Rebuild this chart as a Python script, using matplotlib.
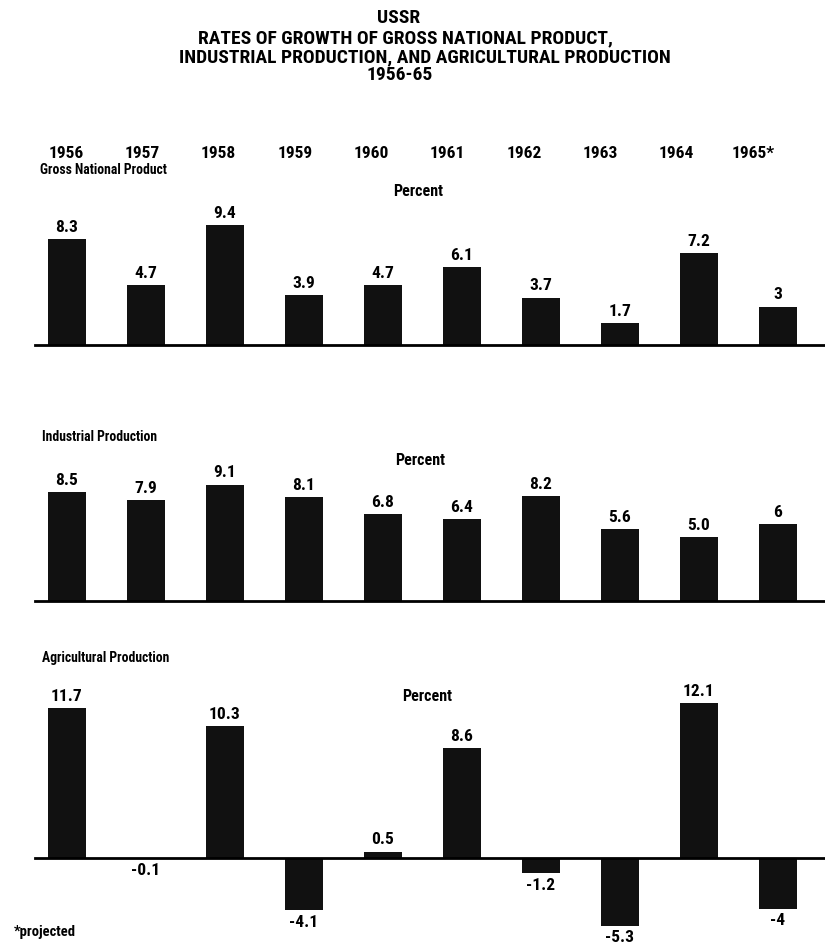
import matplotlib
matplotlib.use("Agg")
import matplotlib.pyplot as plt

years = ["1956", "1957", "1958", "1959", "1960", "1961", "1962", "1963", "1964", "1965*"]
gnp = [8.3, 4.7, 9.4, 3.9, 4.7, 6.1, 3.7, 1.7, 7.2, 3]
gnp_lbl = ["8.3", "4.7", "9.4", "3.9", "4.7", "6.1", "3.7", "1.7", "7.2", "3"]
ind = [8.5, 7.9, 9.1, 8.1, 6.8, 6.4, 8.2, 5.6, 5.0, 6]
ind_lbl = ["8.5", "7.9", "9.1", "8.1", "6.8", "6.4", "8.2", "5.6", "5.0", "6"]
agr = [11.7, -0.1, 10.3, -4.1, 0.5, 8.6, -1.2, -5.3, 12.1, -4]
agr_lbl = ["11.7", "-0.1", "10.3", "-4.1", "0.5", "8.6", "-1.2", "-5.3", "12.1", "-4"]

plt.rcParams['font.family'] = ['Roboto Condensed', 'DejaVu Sans']
plt.rcParams['font.weight'] = 'bold'

W, H = 825, 946
fig = plt.figure(figsize=(W / 100, H / 100), dpi=100)

PX_UNIT = 12.8   # pixels per percent
STEP = 79        # pixels between bars
X0 = 67          # first bar centre
LEFT, RIGHT = 35, 825


def panel(baseline, ymin, ymax):
    bottom = baseline + (-ymin) * PX_UNIT
    top = baseline - ymax * PX_UNIT
    ax = fig.add_axes([LEFT / W, (H - bottom) / H, (RIGHT - LEFT) / W, (bottom - top) / H])
    ax.set_xlim((LEFT - X0) / STEP, (RIGHT - X0) / STEP)
    ax.set_ylim(ymin, ymax)
    ax.axis("off")
    return ax


def draw(ax, vals, labels):
    xs = range(len(vals))
    ax.bar(xs, vals, width=0.48, color="#111111", zorder=2)
    ax.axhline(0, color="black", lw=2.0, zorder=3, clip_on=False)
    for x, v, s in zip(xs, vals, labels):
        off = 3 if v >= 0 else -3
        ax.annotate(s, (x, v), xytext=(0, off), textcoords="offset points",
                    ha="center", va="bottom" if v >= 0 else "top",
                    fontsize=12.5, fontweight="bold")


# title
for x, y, s in [(399, 18, "USSR"), (405, 38, "RATES OF GROWTH OF GROSS NATIONAL PRODUCT,"),
                (425, 57, "INDUSTRIAL PRODUCTION, AND AGRICULTURAL PRODUCTION"), (400, 75, "1956-65")]:
    fig.text(x / W, 1 - y / H, s, ha="center", va="center", fontsize=14, fontweight="bold")

# year header
hdr = fig.add_axes([66 / W, 1 - 160 / H, (753 - 66) / W, 14 / H])
hdr.set_xlim(0, 9)
hdr.axis("off")
for i, yr in enumerate(years):
    hdr.text(i, 0.5, yr, ha="center", va="center", fontsize=12.5, fontweight="bold")

# GNP
ax1 = panel(345, 0, 10)
draw(ax1, gnp, gnp_lbl)
fig.text(40 / W, 1 - 170 / H, "Gross National Product", ha="left", va="center", fontsize=9.8, fontweight="bold")
ax1.text(4.44, 12.0, "Percent", ha="center", va="center", fontsize=11.5, fontweight="bold")

# Industrial
ax2 = panel(601, 0, 10)
draw(ax2, ind, ind_lbl)
fig.text(42 / W, 1 - 437 / H, "Industrial Production", ha="left", va="center", fontsize=9.8, fontweight="bold")
ax2.text(4.47, 11.0, "Percent", ha="center", va="center", fontsize=11.5, fontweight="bold")

# Agricultural
ax3 = panel(858, -6, 13)
draw(ax3, agr, agr_lbl)
fig.text(42 / W, 1 - 658 / H, "Agricultural Production", ha="left", va="center", fontsize=9.8, fontweight="bold")
ax3.text(4.56, 12.6, "Percent", ha="center", va="center", fontsize=11.5, fontweight="bold")

fig.text(14 / W, 1 - 932 / H, "*projected", ha="left", va="center", fontsize=10.5, fontweight="bold")

fig.savefig("out.png", dpi=100)
